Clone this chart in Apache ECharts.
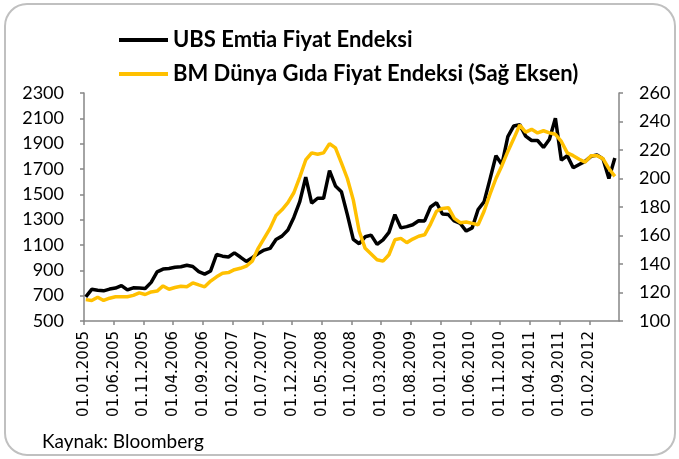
<!DOCTYPE html>
<html>
<head>
<meta charset="utf-8">
<script src="https://cdn.jsdelivr.net/npm/echarts@6/dist/echarts.min.js"></script>
<style>
  html, body { margin: 0; padding: 0; background: #fff; }
  #chart { width: 679px; height: 459px; }
</style>
</head>
<body>
<div id="chart"></div>
<script>
// aylik veriler, 2005-01 .. 2012-06
var tickLabels = ['01.01.2005','01.06.2005','01.11.2005','01.04.2006','01.09.2006','01.02.2007',
    '01.07.2007','01.12.2007','01.05.2008','01.10.2008','01.03.2009','01.08.2009',
    '01.01.2010','01.06.2010','01.11.2010','01.04.2011','01.09.2011','01.02.2012'];

var ubs = [690,750,743,738,752,760,780,745,762,760,
    757,805,888,910,915,925,928,940,930,890,
    870,895,1025,1012,1005,1038,1005,970,1000,1033,
    1060,1073,1144,1170,1218,1318,1442,1635,1430,1469,
    1469,1688,1566,1521,1340,1145,1110,1165,1178,1105,
    1140,1200,1340,1235,1245,1260,1292,1290,1400,1434,
    1345,1340,1290,1270,1210,1235,1380,1440,1620,1805,
    1735,1955,2040,2050,1960,1925,1925,1870,1935,2100,
    1770,1805,1710,1735,1760,1800,1810,1780,1625,1786];

var fao = [115,114.4,116.7,114.4,116,117,117,117,118,119.7,
    118.6,120.4,121,124.6,122.3,123.5,124.4,124,126.7,125.3,
    124,128,131,133.5,134,136,137,138.5,142,151,
    158,165,174,178,183,190,201,213,218,217,
    218,224.5,221.5,211,200,185,163,151,147,143,
    142,146.5,157,158,155,157.5,159.5,160.5,168,177,
    179,179.5,172,169,169.5,168.5,167.5,177,189,200,
    209,219,228,237.5,232.5,234.5,232,233.5,232,231,
    226,218,216,213.5,211.5,216,216,214,207,201.5];

var axisGray = '#868686';

function toPoints(values) {
    // her ay bir nokta, ay ortasina yakin
    return values.map(function (v, i) { return [i + 0.3, v]; });
}

function plain(v) { return String(v); }

var option = {
    animation: false,
    backgroundColor: '#fff',
    textStyle: { fontFamily: 'Lato' },
    legend: {
        orient: 'vertical',
        left: 114,
        top: 24,
        itemWidth: 49,
        itemHeight: 4,
        itemGap: 12,
        icon: 'rect',
        textStyle: { fontFamily: 'Lato', fontWeight: 'bold', fontSize: 22, color: '#000' },
        data: ['UBS Emtia Fiyat Endeksi', 'BM Dünya Gıda Fiyat Endeksi (Sağ Eksen)']
    },
    grid: { left: 84, right: 60, top: 93, bottom: 138, containLabel: false },
    xAxis: {
        type: 'value',
        min: 0,
        max: 90,
        interval: 5,
        splitLine: { show: false },
        axisLine: { lineStyle: { color: axisGray, width: 1.5 } },
        axisTick: { show: true, length: 4, lineStyle: { color: axisGray, width: 1.5 } },
        axisLabel: {
            rotate: 90,
            margin: 10,
            showMaxLabel: false,
            color: '#000',
            fontFamily: 'DejaVu Sans',
            fontSize: 15,
            formatter: function (v) { return tickLabels[Math.round(v / 5)] || ''; }
        }
    },
    yAxis: [
        {
            type: 'value',
            min: 500,
            max: 2300,
            interval: 200,
            splitLine: { show: false },
            axisLine: { show: true, lineStyle: { color: axisGray, width: 1.5 } },
            axisTick: { show: true, length: 4, lineStyle: { color: axisGray, width: 1.5 } },
            axisLabel: { color: '#000', fontSize: 18, margin: 20, fontFamily: 'Lato', formatter: plain }
        },
        {
            type: 'value',
            position: 'right',
            min: 100,
            max: 260,
            interval: 20,
            splitLine: { show: false },
            axisLine: { show: true, lineStyle: { color: axisGray, width: 1.5 } },
            axisTick: { show: true, length: 4, lineStyle: { color: axisGray, width: 1.5 } },
            axisLabel: { color: '#000', fontSize: 18, margin: 20, fontFamily: 'Lato', formatter: plain }
        }
    ],
    series: [
        {
            name: 'UBS Emtia Fiyat Endeksi',
            type: 'line',
            yAxisIndex: 0,
            showSymbol: false,
            lineStyle: { color: '#000', width: 3.5 },
            itemStyle: { color: '#000' },
            data: toPoints(ubs)
        },
        {
            name: 'BM Dünya Gıda Fiyat Endeksi (Sağ Eksen)',
            type: 'line',
            yAxisIndex: 1,
            showSymbol: false,
            lineStyle: { color: '#FFC000', width: 3.5 },
            itemStyle: { color: '#FFC000' },
            data: toPoints(fao)
        }
    ],
    graphic: [
        {
            type: 'rect',
            shape: { x: 5, y: 4, width: 670, height: 451, r: 22 },
            style: { fill: 'none', stroke: '#c0c0c0', lineWidth: 2 },
            silent: true
        },
        {
            type: 'text',
            left: 42,
            top: 432,
            style: { text: 'Kaynak: Bloomberg', font: '19px Lato', fill: '#000' }
        }
    ]
};

var myChart = echarts.init(document.getElementById('chart'));
myChart.setOption(option);
</script>
</body>
</html>
